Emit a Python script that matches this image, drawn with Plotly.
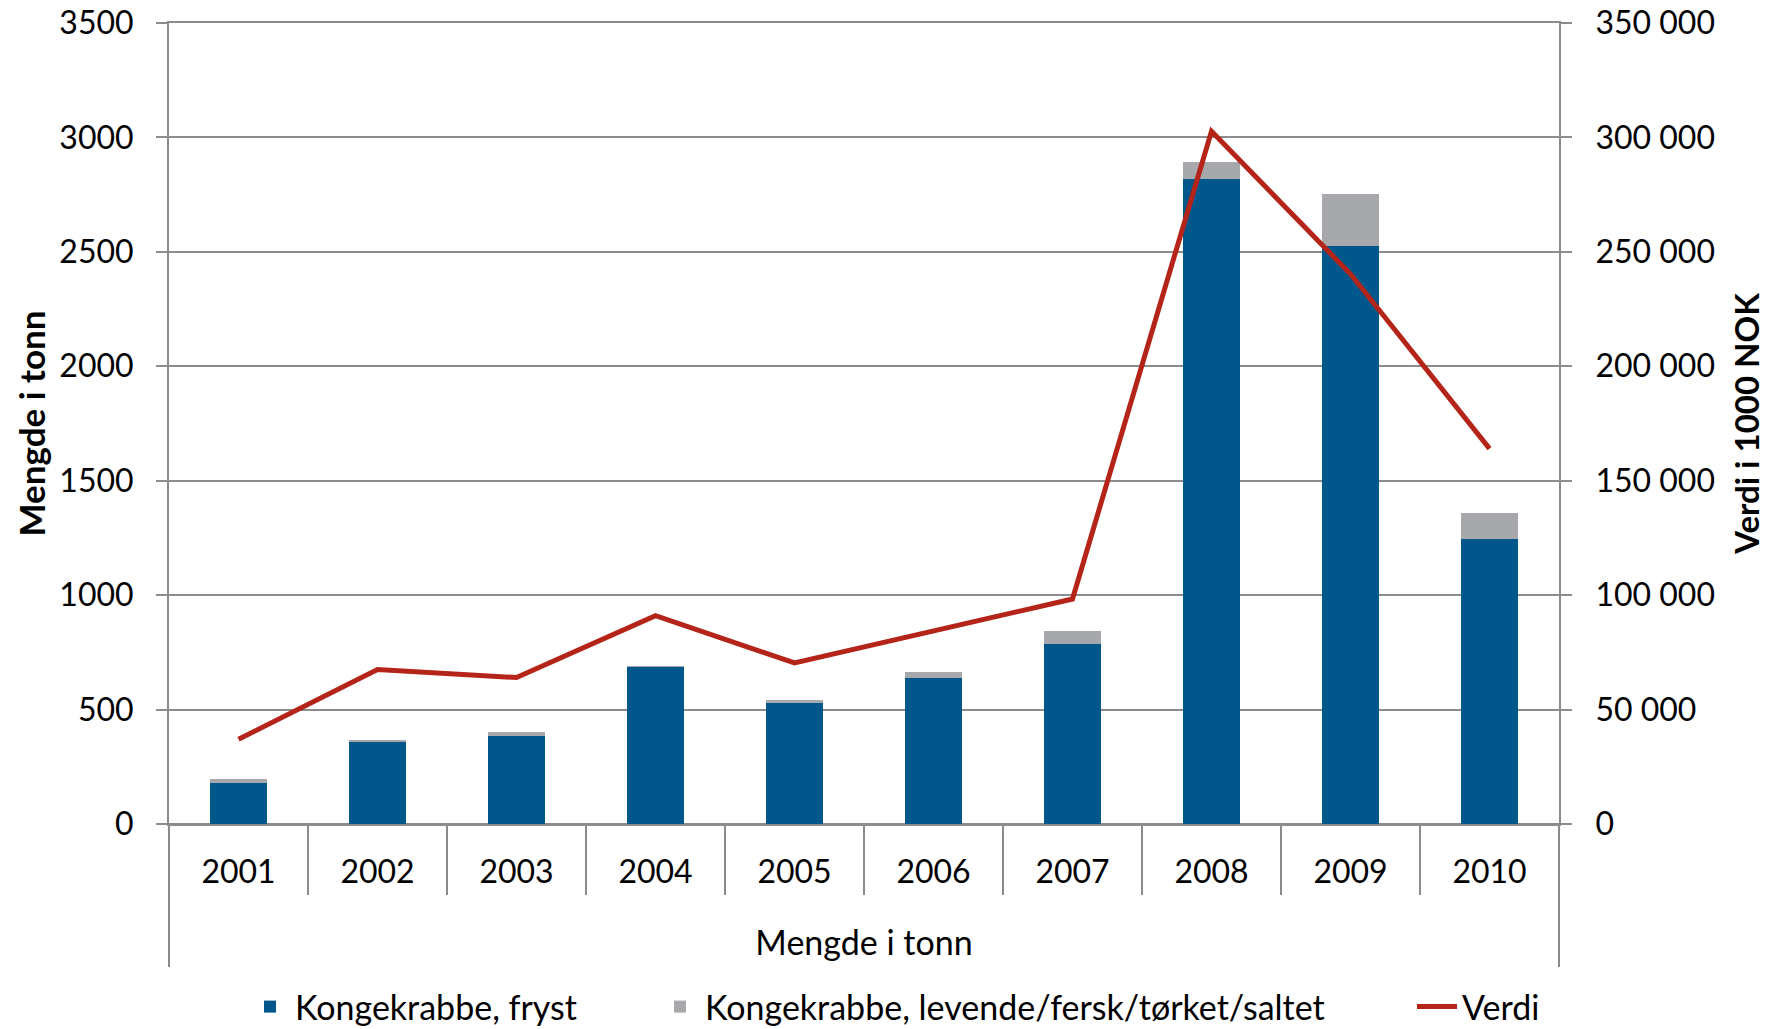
import plotly.graph_objects as go

# data
years = ["2001", "2002", "2003", "2004", "2005", "2006", "2007", "2008", "2009", "2010"]
fryst = [179, 362, 385, 686, 528, 637, 786, 2819, 2526, 1247]
levende = [17, 4, 16, 4, 13, 26, 57, 75, 228, 110]
verdi = [37000, 67500, 64000, 91000, 70400, 84200, 98300, 302700, 240300, 164000]

BLUE = "#00578B"
GREY = "#A7A8AB"
RED = "#B42418"
AXIS = "#8C8C8C"
FONT = "Lato"

fig = go.Figure()
fig.add_trace(go.Bar(x=years, y=fryst, name="Kongekrabbe, fryst", legend="legend",
                     marker=dict(color=BLUE, line=dict(width=0))))
fig.add_trace(go.Bar(x=years, y=levende, name="Kongekrabbe, levende/fersk/tørket/saltet",
                     legend="legend2", marker=dict(color=GREY, line=dict(width=0))))
# value line on overlay axes; x2 (numeric years) carries the divider ticks
fig.add_trace(go.Scatter(x=years, y=verdi, name="Verdi", mode="lines", legend="legend3",
                         line=dict(color=RED, width=5), xaxis="x2", yaxis="y2"))

# the page has an 8px body margin, so everything is laid out 8px up/left
leg = dict(orientation="h", xref="container", yref="container", xanchor="left",
           y=1 - 999 / 1029, yanchor="middle", font=dict(size=34),
           itemwidth=40, bgcolor="rgba(0,0,0,0)")

fig.update_layout(
    width=1771, height=1029,
    margin=dict(l=161, r=220, t=15, b=213, autoexpand=False),
    paper_bgcolor="white", plot_bgcolor="white",
    font=dict(family=FONT, size=32, color="black"),
    separators=", ",
    barmode="stack", bargap=0.59,
    showlegend=True,
    legend=dict(leg, x=237 / 1771),
    legend2=dict(leg, x=647 / 1771),
    legend3=dict(leg, x=1404 / 1771),
    xaxis=dict(type="category", showgrid=False, ticks="", showline=True,
               linecolor=AXIS, linewidth=2, mirror=True,
               automargin=False, ticklabelstandoff=19,
               title=dict(text="Mengde i tonn", font=dict(size=34), standoff=42)),
    xaxis2=dict(type="linear", overlaying="x", side="bottom", anchor="y2",
                range=[2000.5, 2010.5], showgrid=False, showticklabels=False,
                zeroline=False, showline=False, automargin=False,
                tickmode="array", tickvals=[2000.5, 2010.5],
                ticks="outside", ticklen=142, tickcolor=AXIS, tickwidth=2,
                minor=dict(tickmode="linear", tick0=2000.5, dtick=1, ticks="outside",
                           ticklen=70, tickcolor=AXIS, tickwidth=2, showgrid=False)),
    yaxis=dict(range=[0, 3500], dtick=500, tickformat="d", automargin=False,
               ticklabeloverflow="allow",
               showgrid=True, gridcolor=AXIS, gridwidth=2,
               showline=True, linecolor=AXIS, linewidth=2,
               ticks="outside", ticklen=11, tickcolor=AXIS, tickwidth=2,
               ticklabelstandoff=16, zeroline=True, zerolinecolor=AXIS, zerolinewidth=2,
               title=dict(text="<b>Mengde i tonn</b>", font=dict(size=35), standoff=3)),
    yaxis2=dict(range=[0, 350000], dtick=50000, tickformat=",d",
                overlaying="y", side="right", anchor="x2", automargin=False,
                ticklabeloverflow="allow",
                showgrid=False, zeroline=False,
                showline=True, linecolor=AXIS, linewidth=2,
                ticks="outside", ticklen=11, tickcolor=AXIS, tickwidth=2,
                ticklabelstandoff=17,
                title=dict(text="<b>Verdi i 1000 NOK</b>", font=dict(size=33), standoff=22)),
)

fig.write_html("out.html")
